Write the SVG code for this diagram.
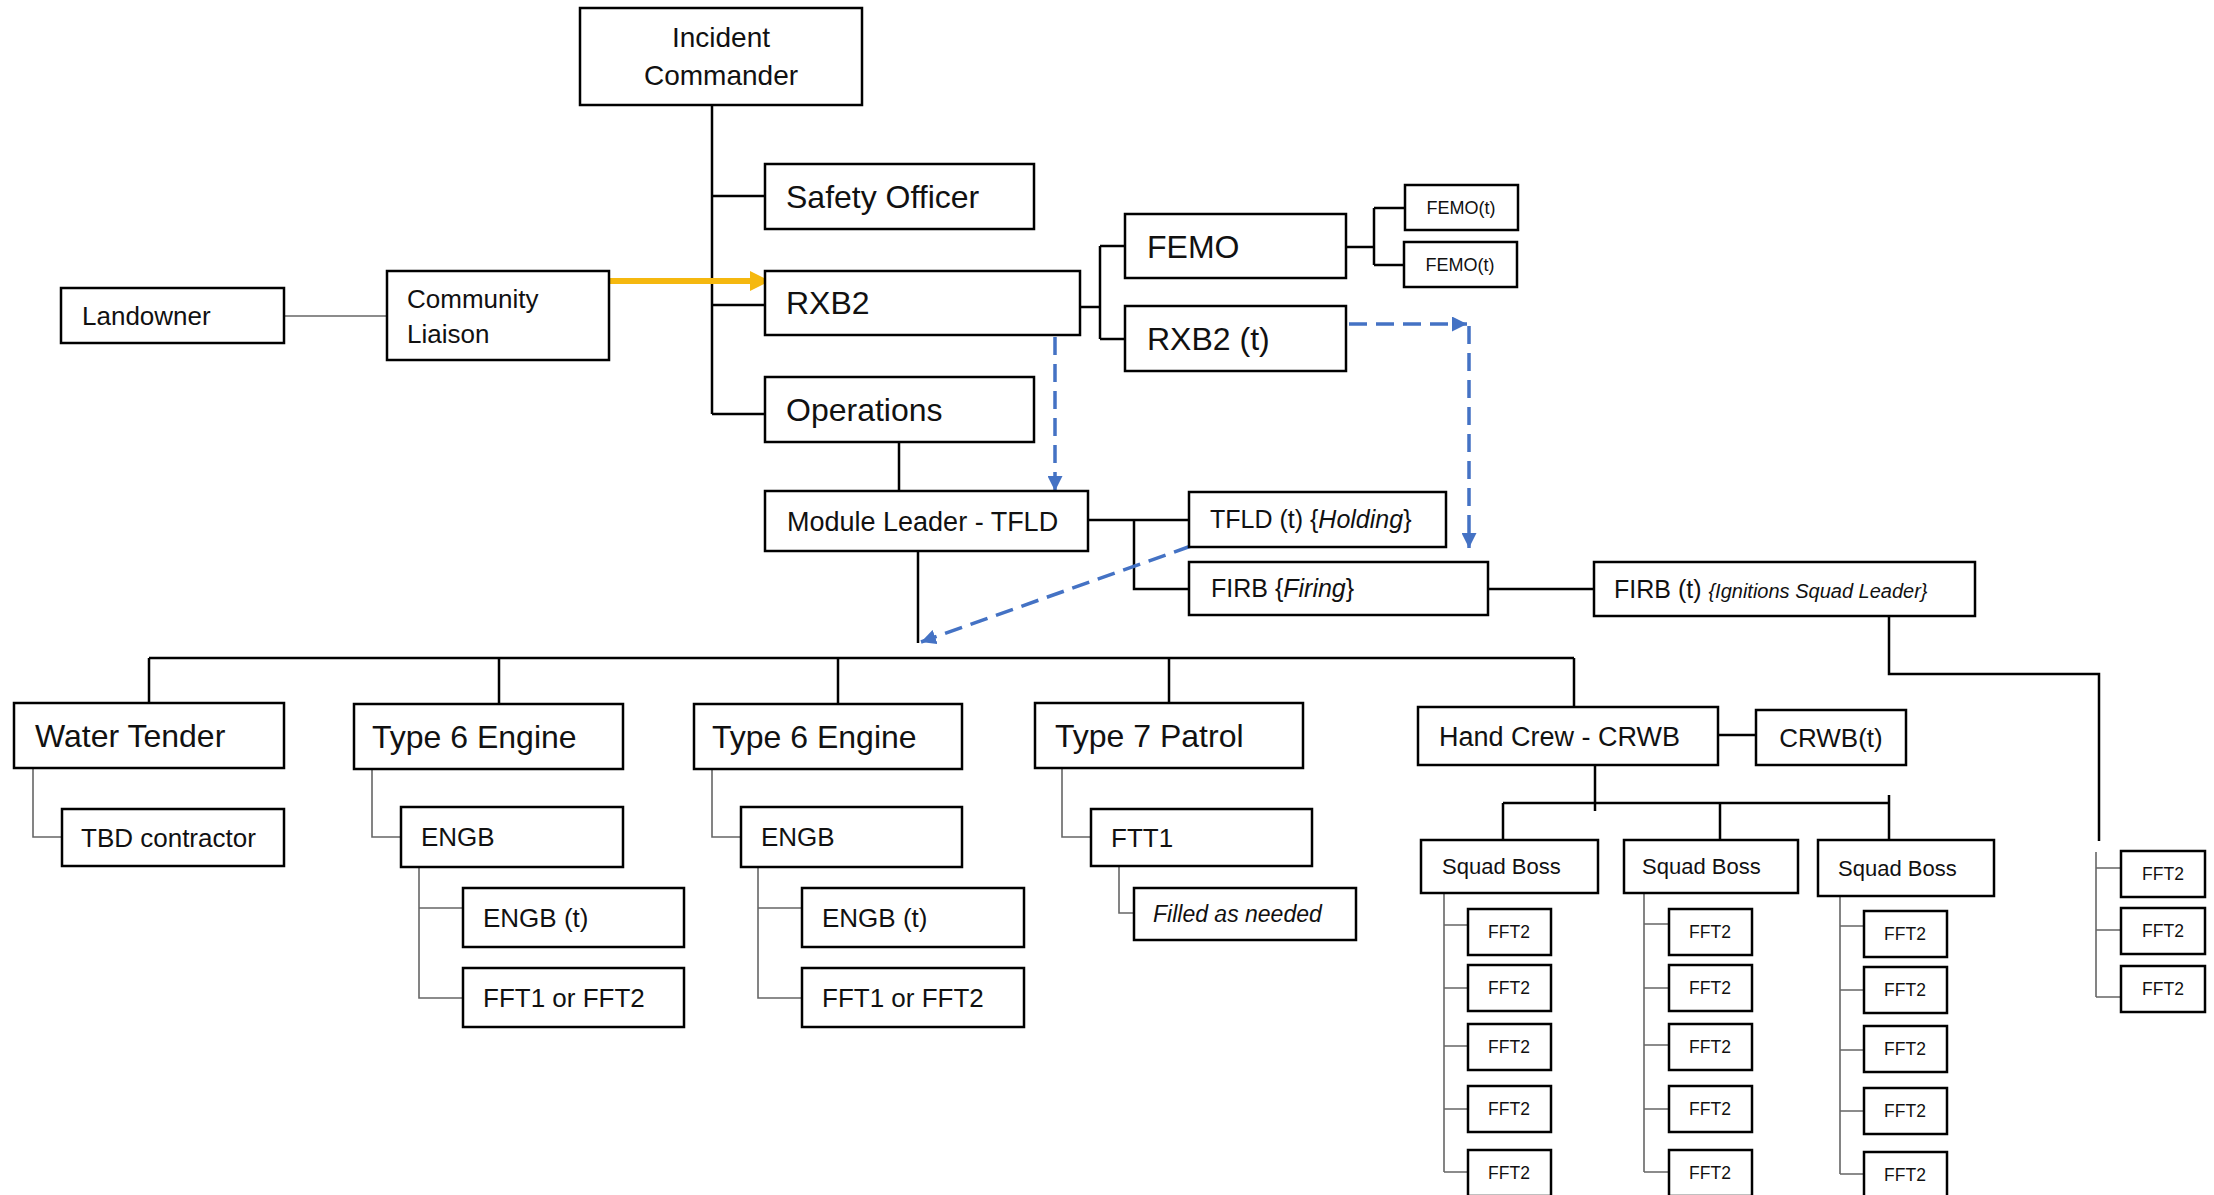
<svg xmlns="http://www.w3.org/2000/svg" width="2214" height="1195" viewBox="0 0 2214 1195">
<defs>
<style>
.box{fill:#fff;stroke:#000;stroke-width:2.5}
.t{font-family:"Liberation Sans",Arial,sans-serif;fill:#111}
.c{text-anchor:middle}
.i{font-style:italic}
.ln{fill:none;stroke:#000;stroke-width:2.5}
.thin{fill:none;stroke:#666;stroke-width:1.6}
.dash{fill:none;stroke:#4472C4;stroke-width:3.5;stroke-dasharray:18 9}
.gold{fill:none;stroke:#F5B80F;stroke-width:6}
.f32{font-size:32px}.f28{font-size:28px}.f27{font-size:27px}.f26{font-size:26px}.f25{font-size:25px}.f23{font-size:23px}.f22{font-size:22px}.f18{font-size:18px}.f17{font-size:17.5px}
</style>
<marker id="ab" viewBox="0 0 10 10" refX="10" refY="5" markerWidth="15" markerHeight="15" markerUnits="userSpaceOnUse" orient="auto"><path d="M0,0 L10,5 L0,10 z" fill="#4472C4"/></marker>
<marker id="ay" viewBox="0 0 10 10" refX="10" refY="5" markerWidth="20" markerHeight="20" markerUnits="userSpaceOnUse" orient="auto"><path d="M0,0 L10,5 L0,10 z" fill="#F5B80F"/></marker>
</defs>
<rect width="2214" height="1195" fill="#fff"/>

<g id="connectors">
<path class="ln" d="M712,105 V414 M712,196 H765 M712,305 H765 M712,414 H765"/>
<path class="ln" d="M1080,307 H1100 M1100,246 V339 M1100,246 H1125 M1100,339 H1125"/>
<path class="ln" d="M1346,247 H1374 M1374,208 V265 M1374,208 H1405 M1374,265 H1404"/>
<path class="ln" d="M899,442 V493 M1088,520 H1189 M1134,520 V589 H1189 M1488,589 H1594 M918,552 V643"/>
<path class="ln" d="M149,658 H1574 M149,658 V703 M499,658 V710 M838,658 V710 M1169,658 V710 M1574,658 V707"/>
<path class="ln" d="M1718,735 H1756 M1595,762 V811 M1503,803 H1889 M1503,803 V855 M1720,803 V855 M1889,795 V849"/>
<path class="ln" d="M1889,617 V674 H2099 V841"/>
<path class="thin" d="M284,316 H387"/>
<path class="thin" d="M33,768 V837 H62"/>
<path class="thin" d="M372,769 V837 H401 M419,867 V998 H463 M419,908 H463"/>
<path class="thin" d="M712,769 V837 H741 M758,867 V998 H802 M758,908 H802"/>
<path class="thin" d="M1062,768 V837 H1091 M1119,866 V913 H1134"/>
<path class="thin" d="M1444,893 V1172 M1444,925 H1468 M1444,988 H1468 M1444,1046 H1468 M1444,1109 H1468 M1444,1172 H1468"/>
<path class="thin" d="M1644,893 V1172 M1644,924 H1669 M1644,988 H1669 M1644,1045 H1669 M1644,1109 H1669 M1644,1172 H1669"/>
<path class="thin" d="M1840,896 V1174 M1840,926 H1864 M1840,990 H1864 M1840,1050 H1864 M1840,1111 H1864 M1840,1174 H1864"/>
<path class="thin" d="M2096,852 V997 M2096,868 H2121 M2096,930 H2121 M2096,997 H2121"/>
<path class="gold" d="M609,281 H770" marker-end="url(#ay)"/>
<path class="dash" d="M1055,337 V491" marker-end="url(#ab)"/>
<path class="dash" d="M1349,324 H1467" marker-end="url(#ab)"/>
<path class="dash" d="M1469,326 V548" marker-end="url(#ab)"/>
<path class="dash" d="M1191,546 L921,642" marker-end="url(#ab)"/>
</g>

<g id="incident-commander"><rect class="box" x="580" y="8" width="282" height="97"/><text class="t f28 c" x="721" y="47">Incident</text><text class="t f28 c" x="721" y="85">Commander</text></g>
<g id="safety-officer"><rect class="box" x="765" y="164" width="269" height="65"/><text class="t f32" x="786" y="208">Safety Officer</text></g>
<g id="rxb2"><rect class="box" x="765" y="271" width="315" height="64"/><text class="t f32" x="786" y="314">RXB2</text></g>
<g id="operations"><rect class="box" x="765" y="377" width="269" height="65"/><text class="t f32" x="786" y="421">Operations</text></g>
<g id="community-liaison"><rect class="box" x="387" y="271" width="222" height="89"/><text class="t f26" x="407" y="308">Community</text><text class="t f26" x="407" y="343">Liaison</text></g>
<g id="landowner"><rect class="box" x="61" y="288" width="223" height="55"/><text class="t f26" x="82" y="325">Landowner</text></g>
<g id="femo"><rect class="box" x="1125" y="214" width="221" height="64"/><text class="t f32" x="1147" y="258">FEMO</text></g>
<g id="rxb2-t"><rect class="box" x="1125" y="306" width="221" height="65"/><text class="t f32" x="1147" y="350">RXB2 (t)</text></g>
<g id="femo-t-1"><rect class="box" x="1405" y="185" width="113" height="45"/><text class="t f18 c" x="1461" y="214">FEMO(t)</text></g>
<g id="femo-t-2"><rect class="box" x="1404" y="242" width="113" height="45"/><text class="t f18 c" x="1460" y="271">FEMO(t)</text></g>
<g id="module-leader"><rect class="box" x="765" y="491" width="323" height="60"/><text class="t f27" x="787" y="531">Module Leader - TFLD</text></g>
<g id="tfld-t"><rect class="box" x="1189" y="492" width="257" height="55"/><text class="t f25" x="1210" y="528">TFLD (t) {<tspan class="i">Holding</tspan>}</text></g>
<g id="firb"><rect class="box" x="1189" y="562" width="299" height="53"/><text class="t f25" x="1211" y="597">FIRB {<tspan class="i">Firing</tspan>}</text></g>
<g id="firb-t"><rect class="box" x="1594" y="562" width="381" height="54"/><text class="t f25" x="1614" y="598">FIRB (t) <tspan class="i" font-size="20">{Ignitions Squad Leader}</tspan></text></g>

<g id="water-tender"><rect class="box" x="14" y="703" width="270" height="65"/><text class="t f32" x="35" y="747">Water Tender</text></g>
<g id="tbd-contractor"><rect class="box" x="62" y="809" width="222" height="57"/><text class="t f26" x="81" y="847">TBD contractor</text></g>
<g id="type6-engine-1"><rect class="box" x="354" y="704" width="269" height="65"/><text class="t f32" x="372" y="748">Type 6 Engine</text></g>
<g id="engb-1"><rect class="box" x="401" y="807" width="222" height="60"/><text class="t f26" x="421" y="846">ENGB</text></g>
<g id="engb-t-1"><rect class="box" x="463" y="888" width="221" height="59"/><text class="t f26" x="483" y="927">ENGB (t)</text></g>
<g id="fft-1"><rect class="box" x="463" y="968" width="221" height="59"/><text class="t f26" x="483" y="1007">FFT1 or FFT2</text></g>
<g id="type6-engine-2"><rect class="box" x="694" y="704" width="268" height="65"/><text class="t f32" x="712" y="748">Type 6 Engine</text></g>
<g id="engb-2"><rect class="box" x="741" y="807" width="221" height="60"/><text class="t f26" x="761" y="846">ENGB</text></g>
<g id="engb-t-2"><rect class="box" x="802" y="888" width="222" height="59"/><text class="t f26" x="822" y="927">ENGB (t)</text></g>
<g id="fft-2"><rect class="box" x="802" y="968" width="222" height="59"/><text class="t f26" x="822" y="1007">FFT1 or FFT2</text></g>
<g id="type7-patrol"><rect class="box" x="1035" y="703" width="268" height="65"/><text class="t f32" x="1055" y="747">Type 7 Patrol</text></g>
<g id="ftt1"><rect class="box" x="1091" y="809" width="221" height="57"/><text class="t f26" x="1111" y="847">FTT1</text></g>
<g id="filled-as-needed"><rect class="box" x="1134" y="888" width="222" height="52"/><text class="t f23 i" x="1153" y="922">Filled as needed</text></g>
<g id="hand-crew"><rect class="box" x="1418" y="707" width="300" height="58"/><text class="t f27" x="1439" y="746">Hand Crew - CRWB</text></g>
<g id="crwb-t"><rect class="box" x="1756" y="710" width="150" height="55"/><text class="t f26 c" x="1831" y="747">CRWB(t)</text></g>
<g id="squad-boss-1"><rect class="box" x="1421" y="840" width="177" height="53"/><text class="t f22" x="1442" y="874">Squad Boss</text></g>
<g id="squad-boss-2"><rect class="box" x="1624" y="840" width="174" height="53"/><text class="t f22" x="1642" y="874">Squad Boss</text></g>
<g id="squad-boss-3"><rect class="box" x="1818" y="840" width="176" height="56"/><text class="t f22" x="1838" y="876">Squad Boss</text></g>

<g id="sb1-fft2-1"><rect class="box" x="1468" y="909" width="83" height="46"/><text class="t f17 c" x="1509" y="938">FFT2</text></g>
<g id="sb1-fft2-2"><rect class="box" x="1468" y="965" width="83" height="46"/><text class="t f17 c" x="1509" y="994">FFT2</text></g>
<g id="sb1-fft2-3"><rect class="box" x="1468" y="1024" width="83" height="46"/><text class="t f17 c" x="1509" y="1053">FFT2</text></g>
<g id="sb1-fft2-4"><rect class="box" x="1468" y="1086" width="83" height="46"/><text class="t f17 c" x="1509" y="1115">FFT2</text></g>
<g id="sb1-fft2-5"><rect class="box" x="1468" y="1150" width="83" height="46"/><text class="t f17 c" x="1509" y="1179">FFT2</text></g>
<g id="sb2-fft2-1"><rect class="box" x="1669" y="909" width="83" height="46"/><text class="t f17 c" x="1710" y="938">FFT2</text></g>
<g id="sb2-fft2-2"><rect class="box" x="1669" y="965" width="83" height="46"/><text class="t f17 c" x="1710" y="994">FFT2</text></g>
<g id="sb2-fft2-3"><rect class="box" x="1669" y="1024" width="83" height="46"/><text class="t f17 c" x="1710" y="1053">FFT2</text></g>
<g id="sb2-fft2-4"><rect class="box" x="1669" y="1086" width="83" height="46"/><text class="t f17 c" x="1710" y="1115">FFT2</text></g>
<g id="sb2-fft2-5"><rect class="box" x="1669" y="1150" width="83" height="46"/><text class="t f17 c" x="1710" y="1179">FFT2</text></g>
<g id="sb3-fft2-1"><rect class="box" x="1864" y="911" width="83" height="46"/><text class="t f17 c" x="1905" y="940">FFT2</text></g>
<g id="sb3-fft2-2"><rect class="box" x="1864" y="967" width="83" height="46"/><text class="t f17 c" x="1905" y="996">FFT2</text></g>
<g id="sb3-fft2-3"><rect class="box" x="1864" y="1026" width="83" height="46"/><text class="t f17 c" x="1905" y="1055">FFT2</text></g>
<g id="sb3-fft2-4"><rect class="box" x="1864" y="1088" width="83" height="46"/><text class="t f17 c" x="1905" y="1117">FFT2</text></g>
<g id="sb3-fft2-5"><rect class="box" x="1864" y="1152" width="83" height="46"/><text class="t f17 c" x="1905" y="1181">FFT2</text></g>
<g id="ign-fft2-1"><rect class="box" x="2121" y="851" width="84" height="46"/><text class="t f17 c" x="2163" y="880">FFT2</text></g>
<g id="ign-fft2-2"><rect class="box" x="2121" y="908" width="84" height="46"/><text class="t f17 c" x="2163" y="937">FFT2</text></g>
<g id="ign-fft2-3"><rect class="box" x="2121" y="966" width="84" height="46"/><text class="t f17 c" x="2163" y="995">FFT2</text></g>
</svg>
